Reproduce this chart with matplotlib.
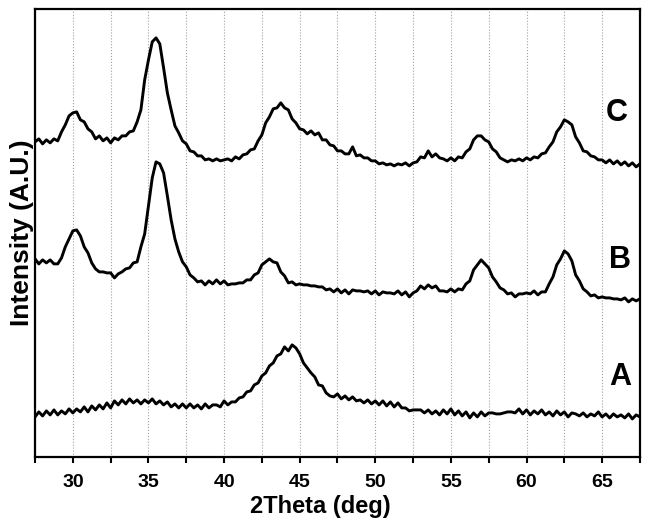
import numpy as np
import matplotlib
matplotlib.use("Agg")
import matplotlib.pyplot as plt
from matplotlib.ticker import MultipleLocator

# XRD patterns, 2theta from 27.5 to 67.5 in 0.25 deg steps (offset traces)
two_theta_start = 27.5
two_theta_step = 0.25

pattern_c = [
    315, 318, 313, 317, 314, 318, 316, 325,
    332, 341, 344, 345, 337, 335, 328, 325,
    318, 321, 316, 319, 314, 319, 317, 321,
    321, 325, 326, 335, 347, 377, 397, 415,
    419, 413, 389, 364, 347, 331, 324, 316,
    313, 306, 305, 301, 301, 297, 298, 296,
    298, 296, 297, 298, 296, 300, 298, 302,
    303, 307, 308, 316, 322, 334, 340, 348,
    349, 354, 349, 347, 338, 334, 328, 327,
    323, 326, 322, 324, 317, 317, 312, 311,
    306, 306, 303, 303, 310, 301, 302, 299,
    299, 296, 296, 293, 294, 292, 293, 291,
    293, 292, 294, 291, 294, 295, 300, 299,
    306, 300, 303, 299, 298, 296, 299, 296,
    300, 299, 305, 308, 317, 321, 321, 317,
    315, 308, 305, 299, 297, 295, 297, 296,
    298, 296, 299, 297, 300, 299, 303, 304,
    310, 315, 325, 330, 337, 335, 332, 320,
    314, 306, 305, 301, 300, 297, 297, 294,
    297, 293, 296, 292, 295, 291, 294, 290,
    293,
]

pattern_b = [
    198, 193, 197, 194, 197, 193, 193, 199,
    210, 218, 226, 227, 221, 210, 204, 194,
    188, 185, 185, 184, 184, 179, 183, 185,
    188, 189, 194, 195, 210, 223, 251, 279,
    295, 293, 284, 261, 237, 218, 205, 195,
    190, 182, 179, 175, 176, 172, 176, 173,
    177, 173, 176, 172, 173, 173, 174, 174,
    177, 177, 182, 184, 192, 195, 198, 195,
    194, 185, 181, 174, 175, 172, 173, 172,
    172, 171, 171, 170, 170, 167, 168, 165,
    168, 164, 167, 163, 167, 166, 166, 165,
    166, 163, 166, 162, 165, 164, 164, 163,
    166, 162, 165, 160, 164, 166, 171, 168,
    172, 169, 171, 166, 166, 165, 168, 165,
    168, 167, 173, 176, 187, 192, 197, 193,
    189, 180, 175, 169, 167, 163, 164, 160,
    163, 163, 164, 163, 166, 162, 165, 165,
    173, 180, 192, 198, 206, 203, 196, 182,
    176, 168, 165, 161, 162, 159, 160, 159,
    159, 158, 158, 157, 159, 155, 158, 156,
    158,
]

pattern_a = [
    40, 45, 41, 46, 42, 47, 42, 46,
    43, 48, 44, 48, 45, 50, 45, 51,
    47, 52, 48, 54, 49, 56, 52, 57,
    53, 58, 54, 57, 53, 57, 54, 58,
    53, 56, 52, 55, 50, 53, 49, 53,
    49, 53, 49, 52, 48, 53, 49, 52,
    52, 50, 56, 52, 55, 55, 59, 60,
    65, 66, 72, 74, 81, 84, 91, 94,
    101, 103, 110, 106, 112, 109, 103, 94,
    89, 84, 80, 72, 71, 64, 61, 60,
    63, 58, 61, 57, 60, 56, 57, 54,
    57, 53, 56, 52, 56, 51, 55, 50,
    54, 49, 49, 46, 47, 47, 47, 44,
    47, 43, 46, 42, 47, 43, 48, 42,
    46, 41, 45, 39, 44, 40, 45, 41,
    44, 44, 43, 43, 44, 45, 45, 44,
    48, 43, 47, 42, 46, 43, 47, 42,
    45, 41, 46, 42, 45, 40, 44, 43,
    41, 44, 40, 43, 41, 45, 40, 43,
    39, 43, 40, 42, 39, 43, 38, 42,
    40,
]

labels = ["A", "B", "C"]
label_x = [66.2, 66.2, 66.0]
label_y = [80, 197, 344]

plt.rcParams["font.family"] = ["Liberation Sans", "DejaVu Sans"]
plt.rcParams["font.weight"] = "bold"

fig = plt.figure(figsize=(6.49, 5.21), dpi=100)
ax = fig.add_axes([0.054, 0.123, 0.932, 0.860])

for series in (pattern_a, pattern_b, pattern_c):
    x = two_theta_start + two_theta_step * np.arange(len(series))
    ax.plot(x, series, color="black", lw=2.1, zorder=3)

for name, lx, ly in zip(labels, label_x, label_y):
    ax.text(lx, ly, name, fontsize=22, fontweight="bold", ha="center", va="center")

ax.set_xlim(27.5, 67.5)
ax.set_ylim(0, 448)
ax.xaxis.set_major_locator(MultipleLocator(5))
ax.xaxis.set_minor_locator(MultipleLocator(2.5))
ax.set_yticks([])
ax.tick_params(axis="x", which="both", direction="out", length=4, width=1.5,
               labelsize=14, pad=8)
ax.grid(axis="x", which="both", color="#a0a0a0", linestyle=":", linewidth=0.8)

for sp in ax.spines.values():
    sp.set_linewidth(1.6)

ax.set_xlabel("2Theta (deg)", fontsize=17, fontweight="bold", labelpad=-2)
ax.xaxis.set_label_coords(0.471, -0.085)
ax.set_ylabel("Intensity (A.U.)", fontsize=19, fontweight="bold", labelpad=1)

fig.savefig("out.png", dpi=100)
